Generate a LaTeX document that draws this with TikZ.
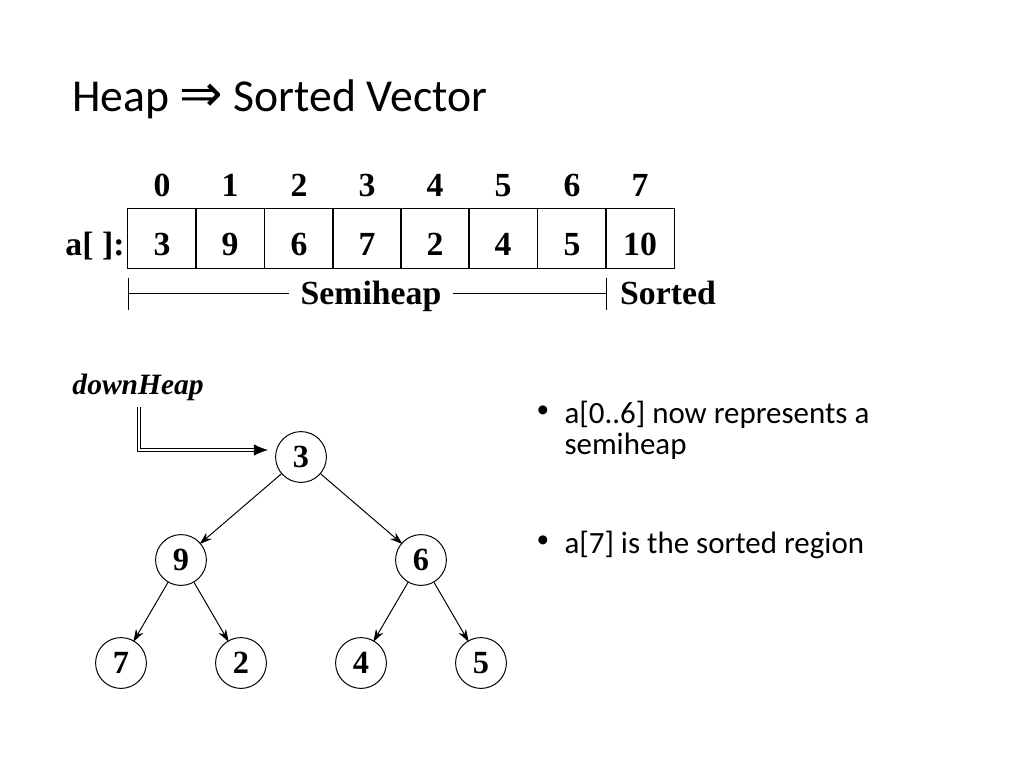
\documentclass[tikz,border=0pt]{standalone}
\usepackage{fontspec}
\setmainfont{Liberation Serif}
\newfontfamily\slidefont{Carlito}
\newfontfamily\arrowfont{DejaVu Sans}
\usetikzlibrary{arrows.meta}

\begin{document}
\begin{tikzpicture}[x=0.025cm,y=-0.025cm,line width=0.7pt,
  cell/.style={draw,minimum width=1.706cm,minimum height=1.5cm,inner sep=0pt,
    text height=25pt,text depth=0pt,font=\fontsize{24}{24}\selectfont\bfseries},
  idx/.style={inner sep=0pt,text height=16.3pt,text depth=0pt,
    font=\fontsize{24}{24}\selectfont\bfseries},
  heapnode/.style={draw,circle,minimum size=1.27cm,inner sep=0pt,
    text height=15.6pt,text depth=0pt,font=\fontsize{23}{23}\selectfont\bfseries},
  edge/.style={-{Stealth[length=9pt,width=6pt]},shorten >=-1pt},
  bullettext/.style={anchor=base west,inner sep=0pt,font=\slidefont\fontsize{22}{22}\selectfont},
  bulletdot/.style={anchor=center,inner sep=0pt,font=\slidefont\fontsize{18}{18}\selectfont}]
\useasboundingbox (0,0) rectangle (1024,768);

% title
\node[anchor=base west,inner sep=0pt,font=\slidefont\fontsize{32.5}{34}\selectfont]
  (title) at (72,112) {Heap {\arrowfont\fontsize{37}{37}\selectfont ⇒} Sorted Vector};

% the vector
\node[idx] (i0) at (162,185) {0};
\node[idx] (i1) at (230,185) {1};
\node[idx] (i2) at (299,185) {2};
\node[idx] (i3) at (367,185) {3};
\node[idx] (i4) at (435,185) {4};
\node[idx] (i5) at (503,185) {5};
\node[idx] (i6) at (572,185) {6};
\node[idx] (i7) at (640,185) {7};
\node[cell] (c0) at (162,238) {3};
\node[cell] (c1) at (230,238) {9};
\node[cell] (c2) at (299,238) {6};
\node[cell] (c3) at (367,238) {7};
\node[cell] (c4) at (435,238) {2};
\node[cell] (c5) at (503,238) {4};
\node[cell] (c6) at (572,238) {5};
\node[cell] (c7) at (640,238) {10};
\node[idx,anchor=east] (aname) at (125,244) {a[ ]:};

% regions
\node[idx,inner xsep=8pt] (semi) at (371,293) {Semiheap};
\node[idx] (sorted) at (668,293) {Sorted};
\coordinate (ltop) at (128,278);
\coordinate (lbot) at (128,310);
\coordinate (rtop) at (606,278);
\coordinate (rbot) at (606,310);
\draw[line width=0.5pt] (ltop) -- (lbot);
\draw[line width=0.5pt] (rtop) -- (rbot);
\draw[line width=0.5pt] (ltop|-semi) -- (semi.west);
\draw[line width=0.5pt] (semi.east) -- (rtop|-semi);

% the heap
\node[anchor=base west,inner sep=0pt,font=\fontsize{21}{21}\selectfont\bfseries\itshape]
  (dh) at (72,394) {downHeap};
\node[heapnode] (n3) at (301,457) {3};
\node[heapnode] (n9) at (181,560) {9};
\node[heapnode] (n6) at (421,560) {6};
\node[heapnode] (n7) at (121,663) {7};
\node[heapnode] (n2) at (241,663) {2};
\node[heapnode] (n4) at (361,663) {4};
\node[heapnode] (n5) at (481,663) {5};
\coordinate (dhs) at (139,407);
\coordinate (dhe) at (268,450);
\draw[double,double distance=1.6pt,line width=0.5pt,-{Latex[length=10pt,width=8pt]}] (dhs) |- (dhe);
\draw[edge] (n3) -- (n9);
\draw[edge] (n3) -- (n6);
\draw[edge] (n9) -- (n7);
\draw[edge] (n9) -- (n2);
\draw[edge] (n6) -- (n4);
\draw[edge] (n6) -- (n5);

% notes
\node[bulletdot] (d1) at (543,412) {•};
\node[bullettext] (t1) at (564,423) {a[0..6] now represents a};
\node[bullettext] (t1b) at (564,454) {semiheap};
\node[bulletdot] (d2) at (543,542) {•};
\node[bullettext] (t2) at (564,553) {a[7] is the sorted region};
\end{tikzpicture}
\end{document}
